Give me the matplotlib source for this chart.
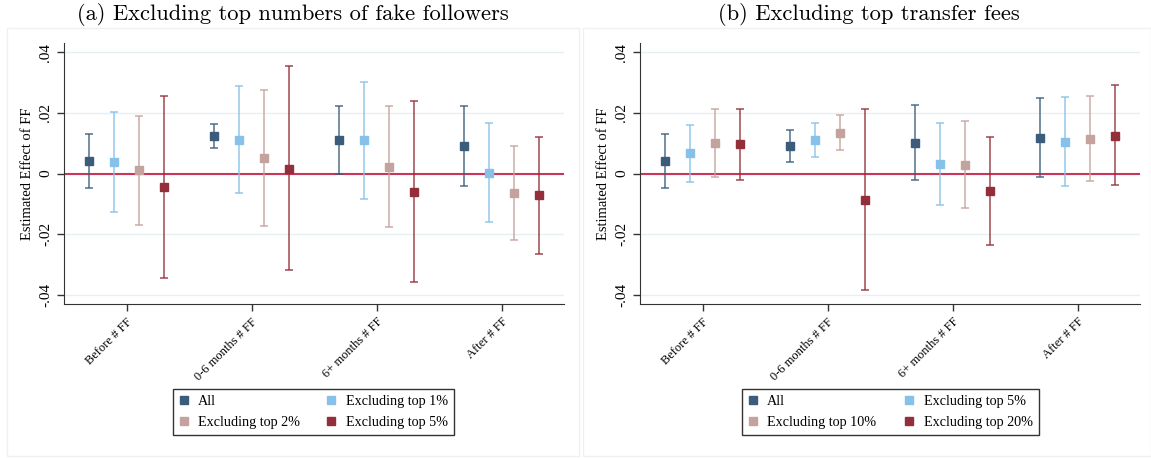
import numpy as np
import matplotlib.pyplot as plt
from matplotlib.patches import Rectangle

# categories on the x axis
periods = ['Before # FF', '0-6 months # FF', '6+ months # FF', 'After # FF']

# panel (a): excluding top numbers of fake followers
labels_a = ['All', 'Excluding top 1%', 'Excluding top 2%', 'Excluding top 5%']
est_a = [[0.0040, 0.0124, 0.0112, 0.0091],
         [0.0038, 0.0111, 0.0109, 0.0003],
         [0.0011, 0.0051, 0.0023, -0.0063],
         [-0.0044, 0.0015, -0.0060, -0.0071]]
lo_a = [[-0.0049, 0.0085, 0.0000, -0.0041],
        [-0.0126, -0.0064, -0.0085, -0.0160],
        [-0.0171, -0.0173, -0.0175, -0.0218],
        [-0.0343, -0.0319, -0.0357, -0.0264]]
hi_a = [[0.0131, 0.0164, 0.0224, 0.0223],
        [0.0204, 0.0287, 0.0301, 0.0168],
        [0.0191, 0.0274, 0.0221, 0.0092],
        [0.0256, 0.0353, 0.0238, 0.0121]]

# panel (b): excluding top transfer fees
labels_b = ['All', 'Excluding top 5%', 'Excluding top 10%', 'Excluding top 20%']
est_b = [[0.0040, 0.0091, 0.0101, 0.0116],
         [0.0066, 0.0111, 0.0031, 0.0105],
         [0.0100, 0.0134, 0.0029, 0.0114],
         [0.0096, -0.0087, -0.0058, 0.0124]]
lo_b = [[-0.0049, 0.0038, -0.0022, -0.0013],
        [-0.0027, 0.0055, -0.0105, -0.0040],
        [-0.0011, 0.0076, -0.0115, -0.0026],
        [-0.0021, -0.0384, -0.0234, -0.0038]]
hi_b = [[0.0130, 0.0144, 0.0225, 0.0248],
        [0.0159, 0.0167, 0.0168, 0.0252],
        [0.0211, 0.0192, 0.0173, 0.0256],
        [0.0213, 0.0213, 0.0119, 0.0290]]

colors = ['#3b5d7b', '#86c1ea', '#c4a29d', '#922f3a']
offsets = [-0.3, -0.1, 0.1, 0.3]

plt.rcParams['font.family'] = ['Liberation Serif', 'DejaVu Serif']

fig = plt.figure(figsize=(11.51, 4.58), dpi=100)
W, H = 1151, 458

# faint frames around each panel
for x0, x1 in [(7, 579), (583, 1151)]:
    fig.patches.append(Rectangle((x0 / W, 1 - 456 / H), (x1 - x0) / W, 428 / H,
                                 transform=fig.transFigure, fill=False,
                                 edgecolor='#f0f0f0', lw=1))


def panel(left, est, lo, hi, labels, title, title_x, leg_x0, leg_w):
    ax = fig.add_axes([left / W, 1 - 304 / H, 500 / W, 261 / H])
    x = np.arange(1, len(periods) + 1)
    handles = []
    for i in range(len(labels)):
        e = np.array(est[i])
        yerr = [e - np.array(lo[i]), np.array(hi[i]) - e]
        ax.errorbar(x + offsets[i], e, yerr=yerr, fmt='none', ecolor=colors[i],
                    elinewidth=1.3, capsize=2.8, capthick=1.3, alpha=0.75, zorder=3)
        h, = ax.plot(x + offsets[i], e, 's', color=colors[i], ms=6,
                     label=labels[i], zorder=4)
        handles.append(h)
    ax.axhline(0, color='#c8365a', lw=1.5, zorder=2)
    ax.set_xlim(0.5, 4.5)
    ax.set_ylim(-0.043, 0.043)
    ax.set_yticks([-0.04, -0.02, 0, 0.02, 0.04])
    ax.set_yticklabels(['-.04', '-.02', '0', '.02', '.04'], rotation=90,
                       va='center', fontsize=11)
    ax.yaxis.grid(True, color='#e6eff1', lw=1)
    ax.set_axisbelow(True)
    ax.set_xticks(x)
    ax.set_xticklabels(periods, rotation=45, ha='right', rotation_mode='anchor',
                       fontsize=9)
    ax.tick_params(direction='out', length=5, width=1, color='#333333')
    for s in ['top', 'right']:
        ax.spines[s].set_visible(False)
    for s in ['left', 'bottom']:
        ax.spines[s].set_color('#333333')
    ax.set_ylabel('Estimated Effect of FF', fontsize=10.5, labelpad=4)
    fig.text(title_x / W, 1 - 15 / H, title, ha='center', va='center',
             fontsize=16.2, family=['cmr10', 'DejaVu Serif'])
    # row-major legend order, as in the reference
    order = [0, 2, 1, 3]
    leg = ax.legend(handles=[handles[k] for k in order], ncol=2, mode='expand',
                    fontsize=10.2,
                    bbox_to_anchor=(leg_x0 / W, 1 - 436 / H, leg_w / W, 48 / H),
                    bbox_transform=fig.transFigure, loc='center',
                    borderaxespad=0, fancybox=False, edgecolor='#333333',
                    framealpha=1, handlelength=0.6, handletextpad=0.7,
                    markerscale=1, borderpad=0.45, labelspacing=0.55)
    leg.get_frame().set_linewidth(1)
    return ax


panel(64, est_a, lo_a, hi_a, labels_a,
      '(a) Excluding top numbers of fake followers', 293, 173, 281)
panel(640, est_b, lo_b, hi_b, labels_b,
      '(b) Excluding top transfer fees', 869, 742, 297)

fig.savefig('out.png', dpi=100)
